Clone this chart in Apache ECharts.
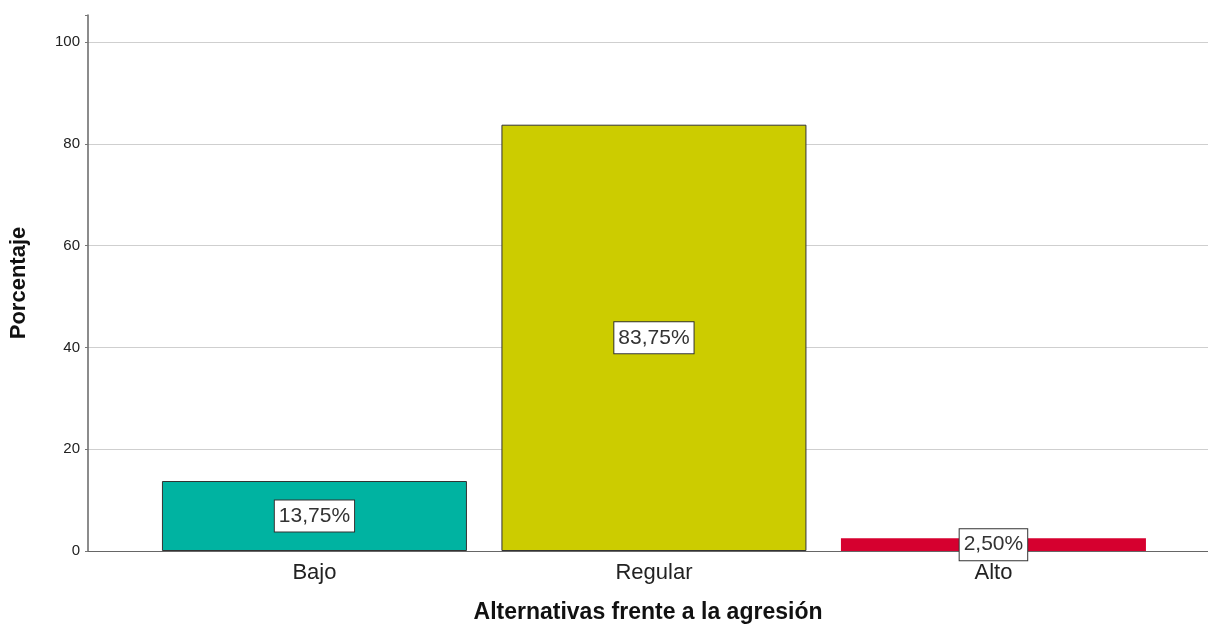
<!DOCTYPE html>
<html>
<head>
    <meta charset="utf-8">
    <title>Alternativas frente a la agresión</title>
    <script src="https://cdn.jsdelivr.net/npm/echarts@6/dist/echarts.min.js"></script>
    <style type="text/css">
        body{
            margin: 0;
            background: #fff;
        }
    </style>
</head>
<body>
<div id="main" style="width: 1208px;height:625px;"></div>
<script>
    var categorias = ["Bajo", "Regular", "Alto"];
    var porcentajes = [13.75, 83.75, 2.50];
    var colores = ["#00b3a1", "#cccc00", "#d6002f"];
    var bordes = [1, 1, 0];
    var ticksY = [0, 20, 40, 60, 80, 100];

    var datos = porcentajes.map(function (v, i) {
        return {
            value: [i, v],
            itemStyle: {color: colores[i], borderColor: '#333', borderWidth: bordes[i]}
        };
    });

    var myChart = echarts.init(document.getElementById('main'));
    var option = {
        animation: false,
        textStyle: {fontFamily: 'Liberation Sans, Arial, sans-serif'},
        grid: {left: 88, right: 0, top: 15, bottom: 74, containLabel: false, outerBoundsMode: 'none'},
        xAxis: {
            type: 'value',
            min: -0.667,
            max: 2.632,
            name: 'Alternativas frente a la agresión',
            nameLocation: 'middle',
            nameGap: 50,
            nameTextStyle: {fontSize: 23, fontWeight: 'bold', color: '#111'},
            splitLine: {show: false},
            axisTick: {show: false},
            axisLine: {onZero: false, lineStyle: {color: '#666', width: 1.2}},
            axisLabel: {
                customValues: [0, 1, 2],
                fontSize: 22,
                color: '#222',
                margin: 11,
                formatter: function (v) { return categorias[Math.round(v)]; }
            }
        },
        yAxis: {
            type: 'value',
            min: 0,
            max: 105.3,
            interval: 20,
            name: 'Porcentaje',
            nameLocation: 'middle',
            nameRotate: 90,
            nameGap: 58,
            nameTextStyle: {fontSize: 22, fontWeight: 'bold', color: '#111'},
            axisLine: {show: true, onZero: false, lineStyle: {color: '#666', width: 1.5}},
            axisTick: {show: true, length: 3, lineStyle: {color: '#777'}},
            axisLabel: {
                customValues: ticksY,
                fontSize: 15,
                color: '#222',
                margin: 8
            },
            splitLine: {showMaxLine: false, lineStyle: {color: '#cfcfcf', width: 1.2}}
        },
        series: [{
            type: 'bar',
            barWidth: 305,
            data: datos,
            label: {
                show: true,
                position: 'inside',
                formatter: function (p) { return p.value[1].toFixed(2).replace('.', ',') + '%'; },
                fontSize: 21,
                color: '#333',
                backgroundColor: '#fff',
                borderColor: '#333',
                borderWidth: 1,
                padding: [6, 4, 4, 4]
            }
        }]
    };
    myChart.setOption(option);
</script>
</body>
</html>
